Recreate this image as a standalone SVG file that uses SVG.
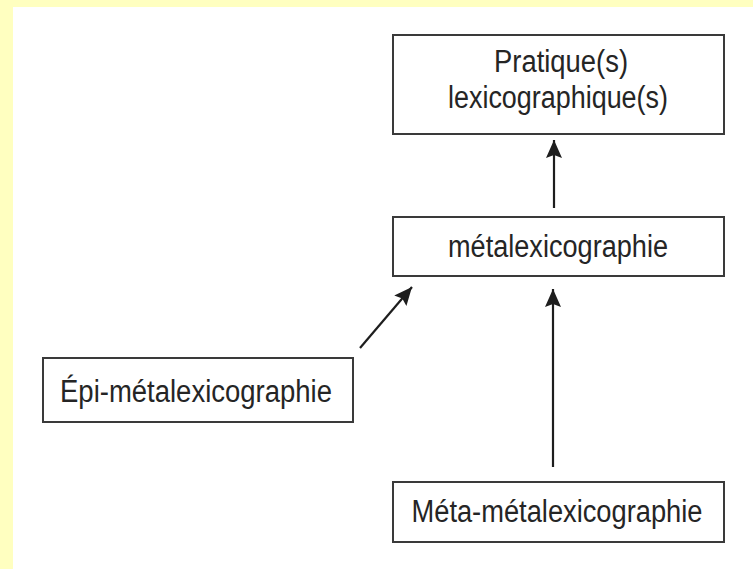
<svg xmlns="http://www.w3.org/2000/svg" width="753" height="569" viewBox="0 0 753 569">
  <style>
    .box { fill: #ffffff; stroke: #3a3a3a; stroke-width: 2; }
    .lbl { font-family: "Liberation Sans", Arial, sans-serif; font-size: 31px; fill: #252525; text-anchor: middle; }
    .conn { stroke: #1e1e1e; stroke-width: 2.2; fill: none; marker-end: url(#ah); }
  </style>
  <defs>
    <marker id="ah" viewBox="0 0 18 16" refX="18" refY="8" markerWidth="18" markerHeight="16" markerUnits="userSpaceOnUse" orient="auto">
      <path d="M0,0 L18,8 L0,16 L3,8 Z" fill="#1e1e1e"/>
    </marker>
  </defs>
  <rect x="0" y="0" width="753" height="569" fill="#ffffc0"/>
  <rect x="13" y="7" width="740" height="562" fill="#ffffff"/>

  <g id="pratique">
    <rect class="box" x="393" y="35" width="331" height="99"/>
    <text class="lbl" x="561" y="72" textLength="134" lengthAdjust="spacingAndGlyphs">Pratique(s)</text>
    <text class="lbl" x="558" y="108" textLength="220" lengthAdjust="spacingAndGlyphs">lexicographique(s)</text>
  </g>

  <g id="metalex">
    <rect class="box" x="393" y="217" width="331" height="59"/>
    <text class="lbl" x="558" y="257" textLength="220" lengthAdjust="spacingAndGlyphs">métalexicographie</text>
  </g>

  <g id="epi">
    <rect class="box" x="43" y="358" width="310" height="64"/>
    <text class="lbl" x="196" y="402" textLength="272" lengthAdjust="spacingAndGlyphs">Épi-métalexicographie</text>
  </g>

  <g id="meta">
    <rect class="box" x="393" y="482" width="331" height="60"/>
    <text class="lbl" x="557" y="522" textLength="291" lengthAdjust="spacingAndGlyphs">Méta-métalexicographie</text>
  </g>

  <g id="connectors">
    <line class="conn" x1="554" y1="208" x2="554" y2="140"/>
    <line class="conn" x1="553" y1="467" x2="553" y2="289"/>
    <line class="conn" x1="360" y1="348" x2="412" y2="287"/>
  </g>
</svg>
